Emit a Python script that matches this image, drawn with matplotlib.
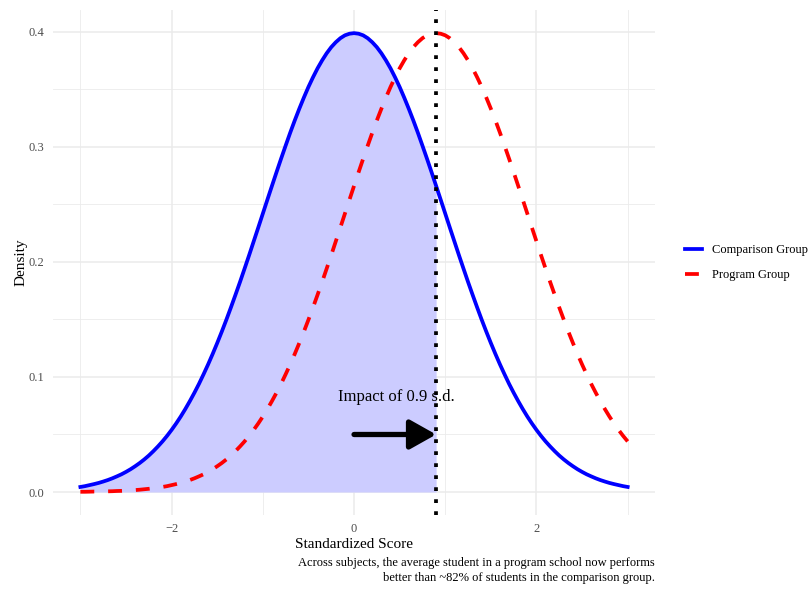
import numpy as np
import matplotlib
matplotlib.use("Agg")
import matplotlib.pyplot as plt
from matplotlib.ticker import MultipleLocator

plt.rcParams['font.family'] = ['Liberation Serif', 'DejaVu Serif']

# standardized score grid, -3 .. 3 in steps of 0.05
scores = np.linspace(-3, 3, 121)

# density (comparison group)
comparison = [0.0044, 0.0051, 0.0060, 0.0069, 0.0079, 0.0091, 0.0104, 0.0119, 0.0136, 0.0154,
              0.0175, 0.0198, 0.0224, 0.0252, 0.0283, 0.0317, 0.0355, 0.0396, 0.0440, 0.0488,
              0.0540, 0.0596, 0.0656, 0.0721, 0.0790, 0.0863, 0.0940, 0.1023, 0.1109, 0.1200,
              0.1295, 0.1394, 0.1497, 0.1604, 0.1714, 0.1826, 0.1942, 0.2059, 0.2179, 0.2299,
              0.2420, 0.2541, 0.2661, 0.2780, 0.2897, 0.3011, 0.3123, 0.3230, 0.3332, 0.3429,
              0.3521, 0.3605, 0.3683, 0.3752, 0.3814, 0.3867, 0.3910, 0.3945, 0.3970, 0.3984,
              0.3989,
              0.3984, 0.3970, 0.3945, 0.3910, 0.3867, 0.3814, 0.3752, 0.3683, 0.3605, 0.3521,
              0.3429, 0.3332, 0.3230, 0.3123, 0.3011, 0.2897, 0.2780, 0.2661, 0.2541, 0.2420,
              0.2299, 0.2179, 0.2059, 0.1942, 0.1826, 0.1714, 0.1604, 0.1497, 0.1394, 0.1295,
              0.1200, 0.1109, 0.1023, 0.0940, 0.0863, 0.0790, 0.0721, 0.0656, 0.0596, 0.0540,
              0.0488, 0.0440, 0.0396, 0.0355, 0.0317, 0.0283, 0.0252, 0.0224, 0.0198, 0.0175,
              0.0154, 0.0136, 0.0119, 0.0104, 0.0091, 0.0079, 0.0069, 0.0060, 0.0051, 0.0044]

# density (program group)
program = [0.0002, 0.0002, 0.0003, 0.0004, 0.0004, 0.0005, 0.0006, 0.0007, 0.0009, 0.0010,
           0.0012, 0.0015, 0.0017, 0.0020, 0.0024, 0.0028, 0.0033, 0.0038,
           0.0044, 0.0051, 0.0060, 0.0069, 0.0079, 0.0091, 0.0104, 0.0119, 0.0136, 0.0154,
           0.0175, 0.0198, 0.0224, 0.0252, 0.0283, 0.0317, 0.0355, 0.0396, 0.0440, 0.0488,
           0.0540, 0.0596, 0.0656, 0.0721, 0.0790, 0.0863, 0.0940, 0.1023, 0.1109, 0.1200,
           0.1295, 0.1394, 0.1497, 0.1604, 0.1714, 0.1826, 0.1942, 0.2059, 0.2179, 0.2299,
           0.2420, 0.2541, 0.2661, 0.2780, 0.2897, 0.3011, 0.3123, 0.3230, 0.3332, 0.3429,
           0.3521, 0.3605, 0.3683, 0.3752, 0.3814, 0.3867, 0.3910, 0.3945, 0.3970, 0.3984,
           0.3989,
           0.3984, 0.3970, 0.3945, 0.3910, 0.3867, 0.3814, 0.3752, 0.3683, 0.3605, 0.3521,
           0.3429, 0.3332, 0.3230, 0.3123, 0.3011, 0.2897, 0.2780, 0.2661, 0.2541, 0.2420,
           0.2299, 0.2179, 0.2059, 0.1942, 0.1826, 0.1714, 0.1604, 0.1497, 0.1394, 0.1295,
           0.1200, 0.1109, 0.1023, 0.0940, 0.0863, 0.0790, 0.0721, 0.0656, 0.0596, 0.0540,
           0.0488, 0.0440]

impact = 0.9
arrow_y = 0.05
label_text = "Impact of 0.9 s.d."
caption = ("Across subjects, the average student in a program school now performs\n"
           "better than ~82% of students in the comparison group.")

fig = plt.figure(figsize=(8.12, 5.89), dpi=100)
ax = fig.add_axes([0.0653, 0.1256, 0.7414, 0.8574])

# shaded area under comparison curve up to the impact line
ax.fill_between(scores, 0, comparison, where=scores <= impact + 1e-9,
                color='#CCCCFF', lw=0, zorder=1)

ax.plot(scores, comparison, color='#0000FF', lw=2.7, label='Comparison Group', zorder=3)
ax.plot(scores, program, color='#FF0000', lw=2.7, dashes=(3.7, 3.7),
        label='Program Group', zorder=3)

ax.axvline(impact, color='black', lw=2.7, dashes=(1, 2.2), zorder=4)

ax.annotate('', xy=(impact, arrow_y), xytext=(0, arrow_y),
            arrowprops=dict(arrowstyle='-|>,head_length=0.8,head_width=0.45',
                            color='black', lw=3.8, mutation_scale=20,
                            shrinkA=0, shrinkB=0), zorder=5)
ax.text(impact / 2 + 0.01, 0.0826, label_text, ha='center', va='center', fontsize=12, zorder=5)

ax.set_xlim(-3.3, 3.3)
ax.set_ylim(-0.02, 0.419)
ax.xaxis.set_minor_locator(MultipleLocator(1))
ax.yaxis.set_minor_locator(MultipleLocator(0.05))
ax.set_xticks([-2, 0, 2])
ax.set_xticklabels(['\u22122', '0', '2'])
ax.set_yticks([0, 0.1, 0.2, 0.3, 0.4])
ax.set_yticklabels(['0.0', '0.1', '0.2', '0.3', '0.4'])

ax.grid(which='major', color='#EBEBEB', lw=1.1, zorder=0)
ax.grid(which='minor', color='#EBEBEB', lw=0.6, zorder=0)
ax.set_axisbelow(True)
for s in ax.spines.values():
    s.set_visible(False)
ax.tick_params(which='both', length=0, labelsize=9, labelcolor='#4D4D4D', pad=6)

ax.set_xlabel('Standardized Score', fontsize=11, labelpad=2)
ax.set_ylabel('Density', fontsize=11, labelpad=1)

leg = ax.legend(loc='center left', bbox_to_anchor=(1.031, 0.5), frameon=False,
                fontsize=9, handlelength=1.4, handletextpad=0.8, labelspacing=1.05)

fig.text(655 / 812, 1 - 570.5 / 589, caption, ha='right', va='center',
         fontsize=9, linespacing=1.3)

fig.savefig('out.png', dpi=100)
